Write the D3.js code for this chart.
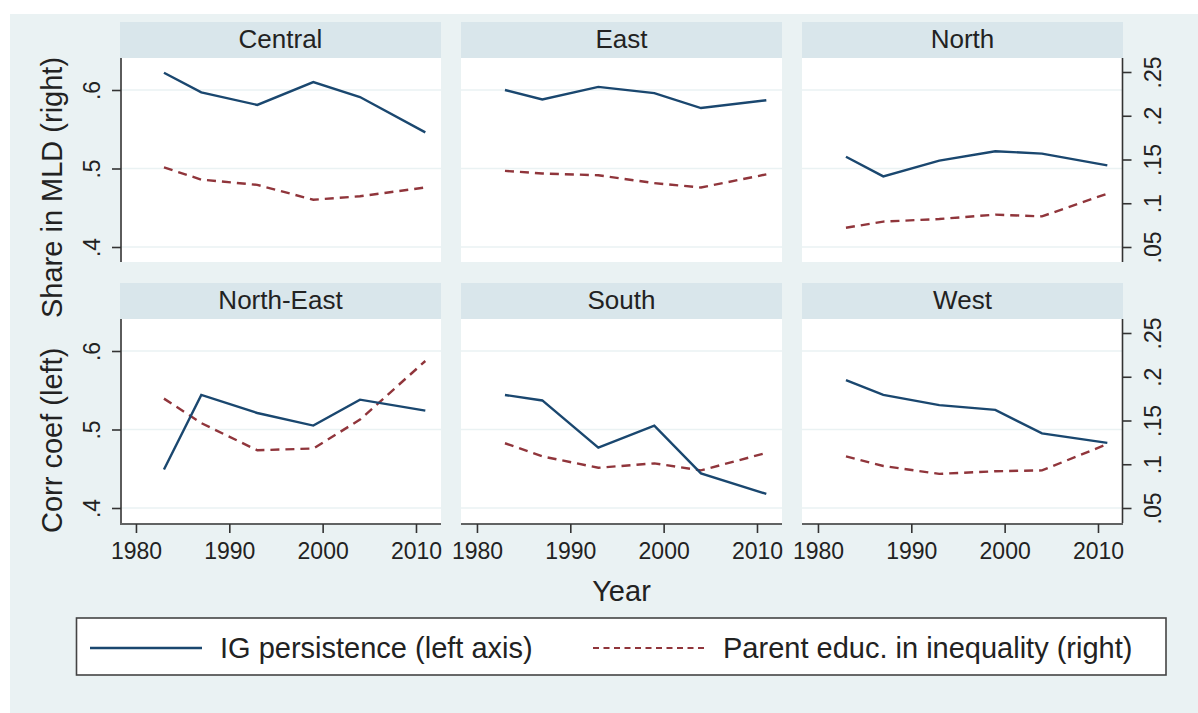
<!DOCTYPE html>
<html>
<head>
<meta charset="utf-8">
<script src="https://cdn.jsdelivr.net/npm/d3@7"></script>
<style>
    html, body { margin: 0; padding: 0; background: #ffffff; }
    text { font-family: "Liberation Sans", Arial, sans-serif; fill: #222222; }
</style>
</head>
<body>
<div id="chart"></div>
<script>
// values
var years = [1983, 1987, 1993, 1999, 2004, 2011];
var regions = ["Central", "East", "North", "North-East", "South", "West"];

// IG persistence, correlation coefficient (left axis)
var igPersistence = [
    [0.622, 0.597, 0.581, 0.610, 0.591, 0.546],
    [0.600, 0.588, 0.604, 0.596, 0.577, 0.587],
    [0.515, 0.490, 0.510, 0.522, 0.519, 0.504],
    [0.449, 0.544, 0.521, 0.505, 0.538, 0.524],
    [0.544, 0.537, 0.477, 0.505, 0.444, 0.418],
    [0.563, 0.544, 0.531, 0.525, 0.495, 0.483]
];

// parent education share in MLD (right axis)
var parentEduc = [
    [0.141, 0.127, 0.121, 0.104, 0.108, 0.118],
    [0.137, 0.134, 0.132, 0.123, 0.118, 0.133],
    [0.072, 0.079, 0.082, 0.087, 0.085, 0.111],
    [0.175, 0.147, 0.116, 0.118, 0.151, 0.218],
    [0.124, 0.109, 0.096, 0.101, 0.093, 0.113],
    [0.109, 0.098, 0.089, 0.092, 0.093, 0.123]
];

var xTicks = [1980, 1990, 2000, 2010];
var leftTicks = [0.4, 0.5, 0.6];
var rightTicks = [0.05, 0.1, 0.15, 0.2, 0.25];
var legendLabels = ["IG persistence (left axis)", "Parent educ. in inequality (right)"];

var width = 1198;
var height = 713;

var blue = "#1a476f";
var red = "#90353b";

var svg = d3.select("#chart").append("svg")
    .attr("width", width)
    .attr("height", height);

// graph region
svg.append("rect")
    .attr("x", 10).attr("y", 14)
    .attr("width", width - 10).attr("height", height - 14)
    .attr("fill", "#eaf2f3");

var panelW = 321;
var stripH = 36;
var plotH = 204;
var colX = [120, 461, 802];
var rowY = [22, 283];

var x = d3.scaleLinear().domain([1978.29, 2012.68]).range([0, panelW]);
var yLeft = d3.scaleLinear().domain([0.4, 0.6]).range([189, 32]);
var yRight = d3.scaleLinear().domain([0.05, 0.25]).range([189, 14]);

var fmt = function (d) { return String(d).replace(/^0/, ""); };

var lineLeft = d3.line()
    .x(function (d, i) { return x(years[i]); })
    .y(function (d) { return yLeft(d); });
var lineRight = d3.line()
    .x(function (d, i) { return x(years[i]); })
    .y(function (d) { return yRight(d); });

regions.forEach(function (name, k) {
    var row = Math.floor(k / 3);
    var col = k % 3;
    var g = svg.append("g")
        .attr("transform", "translate(" + colX[col] + "," + rowY[row] + ")");

    // strip
    g.append("rect")
        .attr("width", panelW).attr("height", stripH)
        .attr("fill", "#d9e6eb");
    g.append("text")
        .attr("x", panelW / 2).attr("y", 25.5)
        .attr("text-anchor", "middle")
        .style("font-size", "26px")
        .text(name);

    var p = g.append("g").attr("transform", "translate(0," + stripH + ")");
    p.append("rect")
        .attr("width", panelW).attr("height", plotH)
        .attr("fill", "#ffffff");

    // grid lines
    p.selectAll(".grid")
        .data(leftTicks)
        .enter().append("line")
        .attr("x1", 0).attr("x2", panelW)
        .attr("y1", function (d) { return yLeft(d); })
        .attr("y2", function (d) { return yLeft(d); })
        .attr("stroke", "#eaf2f3")
        .attr("stroke-width", 1.5);

    p.append("path")
        .datum(parentEduc[k])
        .attr("d", lineRight)
        .attr("fill", "none")
        .attr("stroke", red)
        .attr("stroke-width", 2.4)
        .attr("stroke-dasharray", "9,6");

    p.append("path")
        .datum(igPersistence[k])
        .attr("d", lineLeft)
        .attr("fill", "none")
        .attr("stroke", blue)
        .attr("stroke-width", 2.4);

    // left axis
    if (col == 0) {
        var la = p.append("g").attr("transform", "translate(1,0)")
            .call(d3.axisLeft(yLeft).tickValues(leftTicks).tickSize(9).tickSizeOuter(0).tickFormat(fmt));
        la.select(".domain").attr("d", "M0,0V" + plotH);
        la.selectAll("line, path").attr("stroke", "#333333").attr("stroke-width", 1.6);
        la.selectAll("text")
            .attr("x", null).attr("dy", null)
            .attr("transform", function (d) { return "translate(-21," + 0 + ") rotate(-90)"; })
            .attr("text-anchor", "middle")
            .attr("y", 0)
            .style("font-size", "23px")
            .style("fill", "#222222");
    }

    // right axis
    if (col == 2) {
        var ra = p.append("g").attr("transform", "translate(" + (panelW - 0.5) + ",0)")
            .call(d3.axisRight(yRight).tickValues(rightTicks).tickSize(9).tickSizeOuter(0).tickFormat(fmt));
        ra.select(".domain").attr("d", "M0,0V" + plotH);
        ra.selectAll("line, path").attr("stroke", "#333333").attr("stroke-width", 1.6);
        ra.selectAll("text")
            .attr("x", null).attr("dy", null)
            .attr("transform", "translate(38,0) rotate(-90)")
            .attr("text-anchor", "middle")
            .attr("y", 0)
            .style("font-size", "23px")
            .style("fill", "#222222");
    }

    // bottom axis
    if (row == 1) {
        var xa = p.append("g").attr("transform", "translate(0," + (plotH + 1) + ")")
            .call(d3.axisBottom(x).tickValues(xTicks).tickSize(9).tickSizeOuter(0).tickFormat(d3.format("d")));
        xa.select(".domain").attr("d", "M0,0H" + panelW);
        xa.selectAll("line, path").attr("stroke", "#333333").attr("stroke-width", 1.6);
        xa.selectAll("text")
            .attr("dy", null)
            .attr("y", 35)
            .style("font-size", "23px")
            .style("fill", "#222222");
    }
});

// axis titles
svg.append("text")
    .attr("transform", "translate(62,533) rotate(-90)")
    .attr("text-anchor", "start")
    .style("font-size", "29px")
    .text("Corr coef (left)");
svg.append("text")
    .attr("transform", "translate(62,318) rotate(-90)")
    .attr("text-anchor", "start")
    .style("font-size", "29px")
    .text("Share in MLD (right)");
svg.append("text")
    .attr("x", 621.5).attr("y", 601)
    .attr("text-anchor", "middle")
    .style("font-size", "29px")
    .text("Year");

// legend
var legend = svg.append("g");
legend.append("rect")
    .attr("x", 76.5).attr("y", 618)
    .attr("width", 1166 - 76.5).attr("height", 57)
    .attr("fill", "#ffffff")
    .attr("stroke", "#444444")
    .attr("stroke-width", 1.6);

var keyX = [90, 593];
legendLabels.forEach(function (label, i) {
    legend.append("line")
        .attr("x1", keyX[i]).attr("x2", keyX[i] + 112)
        .attr("y1", 648).attr("y2", 648)
        .attr("stroke", i == 0 ? blue : red)
        .attr("stroke-width", i == 0 ? 2.4 : 1.8)
        .attr("stroke-dasharray", i == 0 ? null : "6,4.5");
    legend.append("text")
        .attr("x", keyX[i] + 130).attr("y", 657.5)
        .style("font-size", "29px")
        .text(label);
});
</script>
</body>
</html>
